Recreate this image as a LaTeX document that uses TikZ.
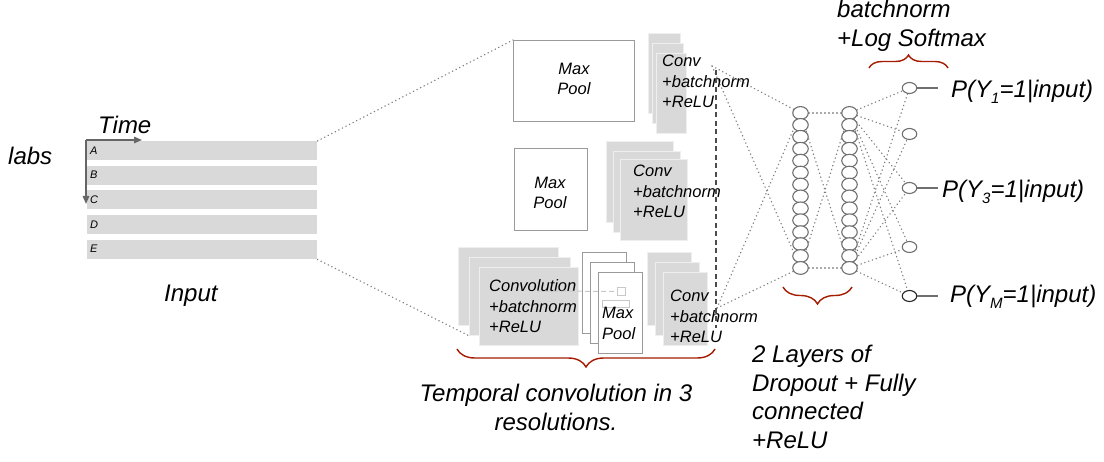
\documentclass[tikz,border=0pt]{standalone}
\usepackage{fontspec}
\setmainfont{Liberation Sans}
\usetikzlibrary{decorations.pathreplacing,arrows.meta,shapes.geometric,backgrounds}
\definecolor{boxgray}{HTML}{D9D9D9}
\definecolor{boxedge}{HTML}{EFEFEF}
\definecolor{edgegray}{HTML}{9A9A9A}
\definecolor{bracered}{HTML}{A61C00}
\definecolor{dotgray}{HTML}{7F7F7F}
\definecolor{circgray}{HTML}{6F6F6F}
\definecolor{arrowgray}{HTML}{666666}
\definecolor{ghost}{HTML}{C8C8C8}
\newcommand\stackL[1]{\begin{tabular}[t]{@{}l@{}}#1\end{tabular}}
\newcommand\stackC[1]{\begin{tabular}[t]{@{}c@{}}#1\end{tabular}}
\newcommand\sbs[1]{\raisebox{-6pt}{\fontsize{15}{15}\selectfont #1}}
\begin{document}
\begin{tikzpicture}[x=1pt,y=-1pt,
 big/.style={font=\fontsize{24}{28.5}\selectfont\itshape, inner sep=0pt, anchor=base west},
 boxtxt/.style={font=\fontsize{16.5}{20.5}\selectfont\itshape, inner sep=0pt, anchor=base west},
 lettxt/.style={font=\fontsize{11}{11}\selectfont\itshape, inner sep=0pt, anchor=base west},
 bar/.style={fill=boxgray, draw=none, anchor=north west, minimum width=230pt, minimum height=19pt, inner sep=0pt},
 convbox/.style={fill=boxgray, draw=boxedge, line width=0.8pt, anchor=north west, inner sep=0pt},
 poolbox/.style={fill=white, draw=edgegray, line width=1.1pt, anchor=north west, inner sep=0pt},
 neuron/.style={ellipse, draw=circgray, fill=white, line width=1.1pt, minimum width=15.5pt, minimum height=12.8pt, inner sep=0pt},
 outn/.style={ellipse, draw=circgray, fill=white, line width=1.1pt, minimum width=14.5pt, minimum height=11pt, inner sep=0pt},
 dots/.style={draw=dotgray, line width=1.3pt, line cap=round, dash pattern=on 0.4pt off 3.6pt},
 redbrace/.style={draw=bracered, line width=1.4pt, decorate, decoration={brace, amplitude=#1}},
 timearrow/.style={draw=arrowgray, line width=1.4pt, -{Triangle[length=8pt,width=6.5pt]}},
 outline/.style={draw=circgray, line width=1.2pt},
]
\useasboundingbox (0,0) rectangle (1104,462);
\begin{scope}[on background layer]
\fill[white] (0,0) rectangle (1104,462);
\end{scope}

% ---------- input ----------
\node[bar] (rowA) at (87,141) {};
\node[bar] (rowB) at (87,166) {};
\node[bar] (rowC) at (87,190) {};
\node[bar] (rowD) at (87,215) {};
\node[bar] (rowE) at (87,240) {};
\node[lettxt] (lA) at (90,155) {A};
\node[lettxt] (lB) at (90,179) {B};
\node[lettxt] (lC) at (90,204) {C};
\node[lettxt] (lD) at (90,229) {D};
\node[lettxt] (lE) at (90,253) {E};
\coordinate (t0) at (86,140);
\coordinate (tx) at (142,140);
\coordinate (ty) at (86,204);
\draw[timearrow] (t0) -- (tx);
\draw[timearrow] (t0) -- (ty);
\node[big] (time) at (98,134) {Time};
\node[big] (labs) at (8,165) {labs};
\node[big] (input) at (164,302) {Input};

% ---------- top resolution ----------
\node[poolbox, minimum width=121pt, minimum height=81pt] (pool1) at (513,40) {};
\node[boxtxt, anchor=north, font=\fontsize{16.5}{19.5}\selectfont\itshape] (pool1t) at (574,61) {\stackC{Max\\Pool}};
\node[convbox, minimum width=32pt, minimum height=80pt] (tc1) at (648,33) {};
\node[convbox, minimum width=31pt, minimum height=80pt] (tc2) at (652,43) {};
\node[convbox, minimum width=30pt, minimum height=80pt] (tc3) at (656,53) {};
\node[boxtxt] (tct) at (662,67) {\stackL{Conv\\+batchnorm\\+ReLU}};

% ---------- middle resolution ----------
\node[poolbox, minimum width=73pt, minimum height=82pt] (pool2) at (514,148) {};
\node[boxtxt, anchor=north, font=\fontsize{16.5}{19.5}\selectfont\itshape] (pool2t) at (550,175) {\stackC{Max\\Pool}};
\node[convbox, minimum width=67pt, minimum height=81pt] (mc1) at (606,141) {};
\node[convbox, minimum width=67pt, minimum height=81pt] (mc2) at (613,151) {};
\node[convbox, minimum width=67pt, minimum height=81pt] (mc3) at (620,159) {};
\node[boxtxt] (mct) at (633,177) {\stackL{Conv\\+batchnorm\\+ReLU}};

% ---------- bottom resolution ----------
\node[convbox, minimum width=100pt, minimum height=78pt] (bc1) at (458,247) {};
\node[convbox, minimum width=101pt, minimum height=78pt] (bc2) at (469,257) {};
\node[convbox, minimum width=99pt, minimum height=78pt] (bc3) at (479,267) {};
\node[boxtxt] (bct) at (489,292) {\stackL{Convolution\\+batchnorm\\+ReLU}};
\node[poolbox, minimum width=44pt, minimum height=81pt] (bp1) at (582,252) {};
\node[poolbox, minimum width=44pt, minimum height=81pt] (bp2) at (590,262) {};
\node[poolbox, minimum width=44pt, minimum height=81pt] (bp3) at (598,272) {};
\coordinate (ghostA) at (537,291);
\node[draw=ghost, line width=0.9pt, minimum width=8pt, minimum height=8pt, inner sep=0pt, anchor=north west] (ghostsq) at (617,287) {};
\node[draw=ghost, line width=0.9pt, minimum width=27pt, minimum height=7pt, inner sep=0pt, anchor=north west] (ghostrect) at (602,300) {};
\draw[draw=ghost, line width=1pt, dash pattern=on 5pt off 3pt] (ghostA) -- (ghostsq);
\node[boxtxt] (bpt) at (602,319) {\stackL{Max\\Pool}};
\node[convbox, minimum width=44pt, minimum height=73pt] (rc1) at (647,252) {};
\node[convbox, minimum width=44pt, minimum height=73pt] (rc2) at (655,262) {};
\node[convbox, minimum width=44pt, minimum height=73pt] (rc3) at (663,272) {};
\node[boxtxt] (rct) at (670,302) {\stackL{Conv\\+batchnorm\\+ReLU}};

\coordinate (dtop) at (716,70);
\coordinate (dbot) at (716,328);
\draw[draw=black!70, line width=1.1pt, dash pattern=on 5pt off 3.5pt] (dtop) -- (dbot);

\coordinate (cbl) at (715,349);
\coordinate (cbr) at (457,349);
\draw[redbrace=18pt] (cbl) -- (cbr);
\node[big, anchor=base, align=center] (temporal) at (556,402) {\stackC{Temporal convolution in 3\\resolutions.}};

% ---------- fully connected ----------
\foreach \i in {1,...,14} {
  \node[neuron] (La\i) at (800.5, {113+(\i-1)*11.92}) {};
  \node[neuron] (Lb\i) at (849.5, {113+(\i-1)*11.92}) {};
}
\node[outn] (O1) at (909.5,88) {};
\node[outn] (O2) at (909.5,134) {};
\node[outn] (O3) at (909.5,188) {};
\node[outn] (O4) at (909.5,247) {};
\node[outn, draw=black!85] (O5) at (909.5,296) {};

\coordinate (tcc) at (712,66);
\coordinate (bcc) at (717,308);
\begin{scope}[on background layer]
  \draw[dots] (rowA.north east) -- (pool1.north west);
  \draw[dots] (rowE.south east) -- (bc2.south west);
  \draw[dots] (tcc) -- (La1);
  \draw[dots] (tcc) -- (La14);
  \draw[dots] (bcc) -- (La1);
  \draw[dots] (bcc) -- (La14);
  \draw[dots] (La1) -- (Lb1);
  \draw[dots] (La14) -- (Lb14);
  \draw[dots] (La1) -- (Lb14);
  \draw[dots] (La14) -- (Lb1);
  \foreach \o in {O1,O2,O3,O4,O5} {
    \draw[dots] (Lb1) -- (\o);
    \draw[dots] (Lb14) -- (\o);
  }
\end{scope}

\coordinate (fbl) at (852,287);
\coordinate (fbr) at (783,287);
\draw[redbrace=17pt] (fbl) -- (fbr);
\node[big] (fclabel) at (752,363) {\stackL{2 Layers of\\Dropout + Fully\\connected\\+ReLU}};

% ---------- outputs ----------
\coordinate (sbl) at (869,68);
\coordinate (sbr) at (948,68);
\draw[redbrace=13pt] (sbl) -- (sbr);
\node[big] (smlabel) at (837,18) {\stackL{batchnorm\\+Log Softmax}};

\coordinate (e1) at (938,88);
\coordinate (e3) at (938,188);
\coordinate (e5) at (938,296);
\draw[outline] (O1) -- (e1);
\draw[outline] (O3) -- (e3);
\draw[outline] (O5) -- (e5);
\node[big] (P1) at (951,98) {P(Y\sbs{1}=1|input)};
\node[big] (P3) at (942,198) {P(Y\sbs{3}=1|input)};
\node[big] (P5) at (950,303) {P(Y\sbs{M}=1|input)};
\end{tikzpicture}
\end{document}
